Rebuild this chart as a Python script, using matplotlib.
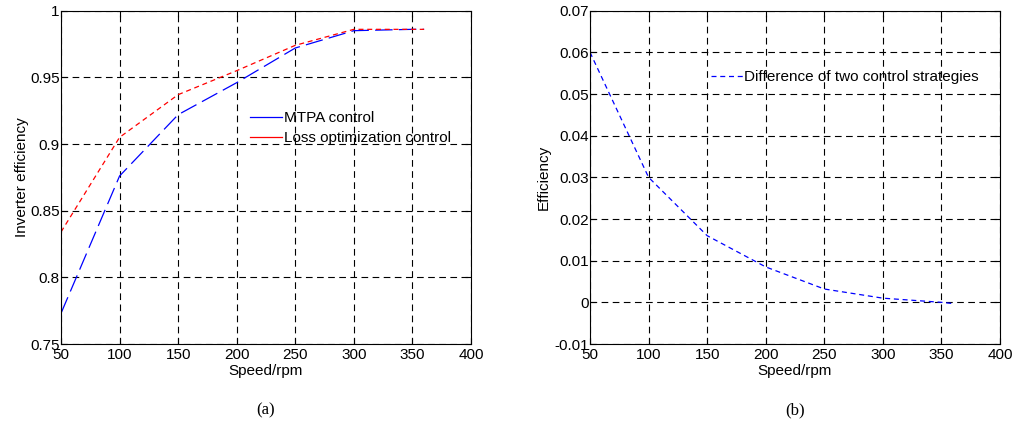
import numpy as np
import matplotlib.pyplot as plt

plt.rcParams['font.family'] = ['Liberation Sans', 'DejaVu Sans']
plt.rcParams['font.size'] = 11

speed = [50, 100, 150, 200, 250, 300, 350, 360]
mtpa = [0.773, 0.876, 0.922, 0.946, 0.972, 0.985, 0.986, 0.986]
loss_opt = [0.834, 0.905, 0.937, 0.955, 0.974, 0.986, 0.986, 0.986]
diff = [0.060, 0.030, 0.016, 0.0085, 0.0032, 0.001, 0.0, -0.0003]

x_ticks = [50, 100, 150, 200, 250, 300, 350, 400]
left_ticks = [0.75, 0.8, 0.85, 0.9, 0.95, 1.0]
left_labels = ["0.75", "0.8", "0.85", "0.9", "0.95", "1"]
right_ticks = [-0.01, 0, 0.01, 0.02, 0.03, 0.04, 0.05, 0.06, 0.07]
right_labels = ["-0.01", "0", "0.01", "0.02", "0.03", "0.04", "0.05", "0.06", "0.07"]


def style_axes(ax):
    ax.set_xlim(50, 400)
    ax.set_xticks(x_ticks)
    ax.grid(True, color="black", linestyle=(0, (6, 4)), linewidth=0.8)
    ax.tick_params(direction="in", top=True, right=True, length=4, pad=1)
    ax.tick_params(axis="x", pad=3)
    for s in ax.spines.values():
        s.set_linewidth(0.8)
    ax.set_xlabel("Speed/rpm", labelpad=1)


fig = plt.figure(figsize=(10.15, 4.32), dpi=100)

ax1 = fig.add_axes([0.0601, 0.2037, 0.4039, 0.7716])
ax1.plot(speed, mtpa, color="blue", linewidth=0.9, linestyle=(0, (14, 5)), label="MTPA control")
ax1.plot(speed, loss_opt, color="red", linewidth=0.9, linestyle=(0, (4, 3)), label="Loss optimization control")
style_axes(ax1)
ax1.set_ylim(0.75, 1.0)
ax1.set_yticks(left_ticks)
ax1.set_yticklabels(left_labels)
ax1.set_ylabel("Inverter efficiency", labelpad=1)
leg1 = ax1.legend(loc="upper left", bbox_to_anchor=(0.443, 0.722), frameon=False,
                  handlelength=2.1, handletextpad=0.1, borderpad=0, labelspacing=0.4)
for h in leg1.get_lines():
    h.set_linestyle("-")

ax2 = fig.add_axes([0.5813, 0.2037, 0.4039, 0.7716])
ax2.plot(speed, diff, color="blue", linewidth=0.9, linestyle=(0, (4, 3)),
         label="Difference of two control strategies")
style_axes(ax2)
ax2.set_ylim(-0.01, 0.07)
ax2.set_yticks(right_ticks)
ax2.set_yticklabels(right_labels)
ax2.set_ylabel("Efficiency", labelpad=2)
ax2.legend(loc="upper left", bbox_to_anchor=(0.276, 0.845), frameon=False,
           handlelength=2.1, handletextpad=0.1, borderpad=0)

fig.text(0.262, 0.05, "(a)", ha="center", va="center", fontsize=12, family="Liberation Serif")
fig.text(0.783, 0.05, "(b)", ha="center", va="center", fontsize=12, family="Liberation Serif")

fig.savefig("out.png", dpi=100)
